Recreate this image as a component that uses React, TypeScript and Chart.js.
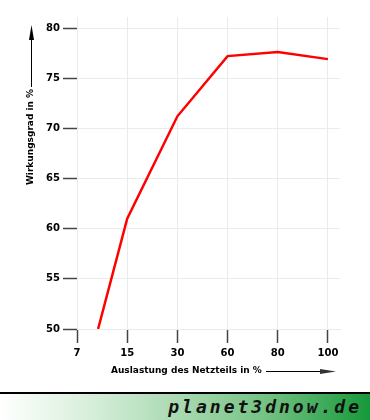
import React, { useEffect, useRef } from "react";
import { Chart, registerables } from "chart.js";

Chart.register(...registerables);

// X tick labels (load in %), placed at category index positions 0..5
const loadTickLabels = ["7", "15", "30", "60", "80", "100"];
// Position of each measurement along the category axis (index units)
const measurementPos = [0.42, 1, 2, 3, 4, 5];
// Efficiency in %
const efficiency = [50.0, 61.0, 71.2, 77.2, 77.6, 76.9];
// Y tick values
const yTicks = [50, 55, 60, 65, 70, 75, 80];

const FONT = "'DejaVu Sans', Verdana, sans-serif";

const titlesPlugin = {
  id: "titles",
  afterDraw(chart: any) {
    const ctx = chart.ctx as CanvasRenderingContext2D;
    ctx.save();
    ctx.fillStyle = "#000";
    ctx.strokeStyle = "#000";
    ctx.font = `bold 9px ${FONT}`;
    // Y title
    ctx.save();
    ctx.translate(31, 137);
    ctx.rotate(-Math.PI / 2);
    ctx.textAlign = "center";
    ctx.textBaseline = "middle";
    ctx.fillText("Wirkungsgrad in %", 0, 0);
    ctx.restore();
    // Y arrow
    ctx.lineWidth = 1;
    ctx.beginPath();
    ctx.moveTo(31.5, 87);
    ctx.lineTo(31.5, 38);
    ctx.stroke();
    ctx.beginPath();
    ctx.moveTo(31.5, 25);
    ctx.lineTo(34, 40);
    ctx.lineTo(29, 40);
    ctx.closePath();
    ctx.fill();
    // X title
    ctx.textAlign = "left";
    ctx.textBaseline = "middle";
    ctx.fillText("Auslastung des Netzteils in %", 111, 371);
    // X arrow
    ctx.beginPath();
    ctx.moveTo(266, 371.5);
    ctx.lineTo(322, 371.5);
    ctx.stroke();
    ctx.fillStyle = "#333";
    ctx.beginPath();
    ctx.moveTo(336, 371.5);
    ctx.lineTo(320, 369);
    ctx.lineTo(320, 374);
    ctx.closePath();
    ctx.fill();
    ctx.restore();
  },
};

export default function App() {
  const ref = useRef<HTMLCanvasElement>(null);
  useEffect(() => {
    if (!ref.current) return;
    const chart = new Chart(ref.current, {
      type: "line",
      data: {
        datasets: [
          {
            data: measurementPos.map((x, i) => ({ x, y: efficiency[i] })),
            borderColor: "#ff0000",
            borderWidth: 2.5,
            pointRadius: 0,
            tension: 0,
            fill: false,
          },
        ],
      },
      options: {
        animation: false,
        responsive: false,
        layout: { padding: { left: 0, top: 17, right: 30, bottom: 0 } },
        plugins: {
          legend: { display: false },
          tooltip: { enabled: false },
          title: { display: false },
        },
        scales: {
          x: {
            type: "linear",
            min: 0,
            max: 5.24,
            afterFit: (s: any) => {
              s.height = 63;
            },
            afterBuildTicks: (s: any) => {
              s.ticks = loadTickLabels.map((_, i) => ({ value: i }));
            },
            ticks: {
              callback: (v: any) => loadTickLabels[v as number],
              font: { family: FONT, size: 10, weight: "bold" },
              color: "#000",
              padding: 4,
              maxRotation: 0,
              autoSkip: false,
            },
            grid: {
              color: "#ebebeb",
              lineWidth: 1,
              tickColor: "#444",
              tickWidth: 1.5,
              tickLength: 14,
            },
            border: { color: "#ebebeb", width: 1 },
          },
          y: {
            type: "linear",
            min: 50,
            max: 81.1,
            afterFit: (s: any) => {
              s.width = 77;
            },
            afterBuildTicks: (s: any) => {
              s.ticks = yTicks.map((v) => ({ value: v }));
            },
            ticks: {
              font: { family: FONT, size: 10, weight: "bold" },
              color: "#000",
              padding: 3,
              includeBounds: false,
            },
            grid: {
              color: "#ebebeb",
              lineWidth: 1,
              tickColor: "#444",
              tickWidth: 1.5,
              tickLength: 14,
            },
            border: { color: "#ebebeb", width: 1 },
          },
        },
      },
      plugins: [titlesPlugin],
    } as any);
    return () => chart.destroy();
  }, []);

  return (
    <div style={{ position: "fixed", left: 0, top: 0, width: 370, height: 420, background: "#fff" }}>
      <canvas ref={ref} width={370} height={392} style={{ display: "block" }} />
      <div
        style={{
          height: 26,
          borderTop: "2px solid #000",
          background:
            "linear-gradient(to right, #ffffff 0%, #d6eed9 25%, #a6d8ae 50%, #74c283 72%, #16993a 100%)",
          position: "relative",
        }}
      >
        <span
          style={{
            position: "absolute",
            right: 8,
            top: 1,
            fontFamily: "'DejaVu Sans Mono', monospace",
            fontStyle: "italic",
            fontWeight: "bold",
            fontSize: 18,
            letterSpacing: 3,
            color: "#111",
            lineHeight: "24px",
          }}
        >
          planet3dnow.de
        </span>
      </div>
    </div>
  );
}
